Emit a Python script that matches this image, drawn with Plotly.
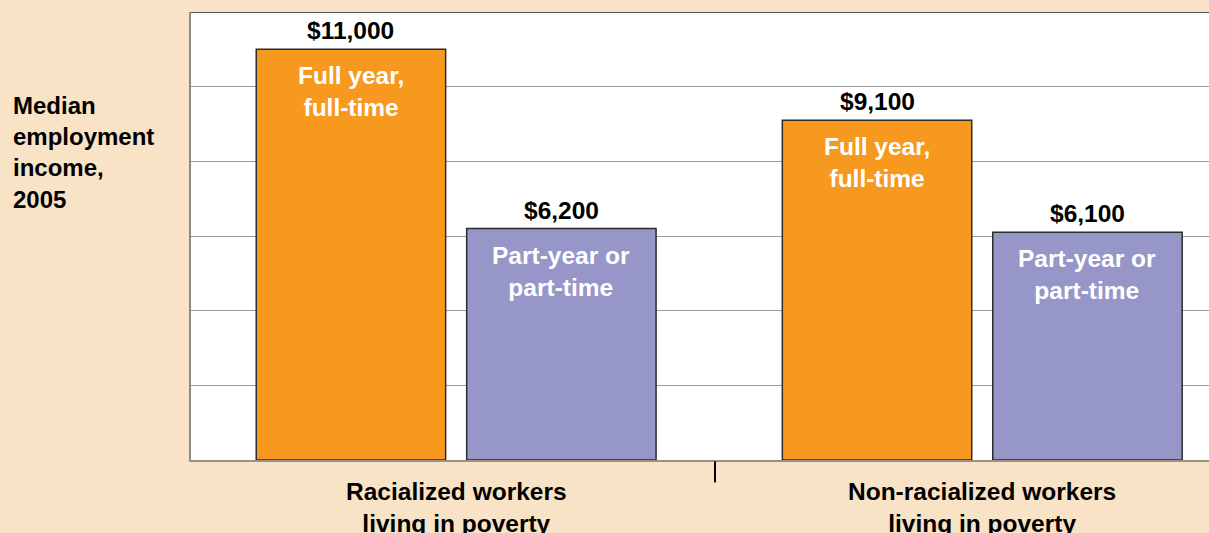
import plotly.graph_objects as go

# Data
groups = ["Racialized workers<br>living in poverty", "Non-racialized workers<br>living in poverty"]
full_time = [11000, 9100]
part_time = [6200, 6100]
full_label = "Full year,<br>full-time"
part_label = "Part-year or<br>part-time"

ORANGE = "#F7991F"
PURPLE = "#9696C9"
BG = "#F9E3C6"
FONT = "Liberation Sans, Arial, sans-serif"
FS = 24.5

x_pos = list(range(len(groups)))
bar_w = 0.36
off_full = -0.380
off_part = 0.020

fig = go.Figure()
fig.add_trace(go.Bar(
    x=x_pos, y=full_time, width=bar_w, offset=off_full,
    marker=dict(color=ORANGE, line=dict(color="#2b2b2b", width=1.5)),
    hoverinfo="skip", showlegend=False,
))
fig.add_trace(go.Bar(
    x=x_pos, y=part_time, width=bar_w, offset=off_part,
    marker=dict(color=PURPLE, line=dict(color="#2b2b2b", width=1.5)),
    hoverinfo="skip", showlegend=False,
))

annotations = []
for i, (f, p) in enumerate(zip(full_time, part_time)):
    for val, off, inner in ((f, off_full, full_label), (p, off_part, part_label)):
        cx = i + off + bar_w / 2
        annotations.append(dict(
            x=cx, y=val, xref="x", yref="y", text=f"<b>${val:,}</b>",
            showarrow=False, yanchor="bottom", yshift=3,
            font=dict(family=FONT, size=FS, color="black"),
        ))
        annotations.append(dict(
            x=cx, y=val, xref="x", yref="y", text=f"<b>{inner}</b>",
            showarrow=False, yanchor="top", yshift=-11, align="center",
            font=dict(family=FONT, size=FS, color="white"),
        ))
    annotations.append(dict(
        x=i, y=0, xref="x", yref="y", text=f"<b>{groups[i]}</b>",
        showarrow=False, yanchor="top", yshift=-16, align="center",
        font=dict(family=FONT, size=FS, color="black"),
    ))

annotations.append(dict(
    x=-0.177, y=0.826, xref="paper", yref="paper",
    text="<b>Median<br>employment<br>income,<br>2005</b>",
    showarrow=False, xanchor="left", yanchor="top", align="left",
    font=dict(family=FONT, size=24, color="black"),
))

shapes = [
    # dark top frame line
    dict(type="line", xref="paper", yref="y", x0=0, x1=1, y0=12000, y1=12000,
         line=dict(color="#555555", width=2)),
    # group divider tick below the axis
    dict(type="line", xref="x", yref="paper", x0=0.492, x1=0.492, y0=-0.003, y1=-0.05,
         line=dict(color="black", width=2)),
]

fig.update_layout(
    width=1209, height=533,
    margin=dict(l=191, r=0, t=12, b=73),
    paper_bgcolor=BG, plot_bgcolor="white",
    barmode="overlay",
    annotations=annotations, shapes=shapes,
    xaxis=dict(range=[-0.504, 1.431], showticklabels=False, showgrid=False,
               zeroline=False, showline=True, linecolor="#999088", linewidth=2,
               fixedrange=True),
    yaxis=dict(range=[0, 12000], dtick=2000, showticklabels=False,
               showgrid=True, gridcolor="#9a9a9a", gridwidth=1,
               zeroline=False, showline=True, linecolor="#8a8a8a", linewidth=1.5,
               fixedrange=True),
)

fig.write_html("out.html")
